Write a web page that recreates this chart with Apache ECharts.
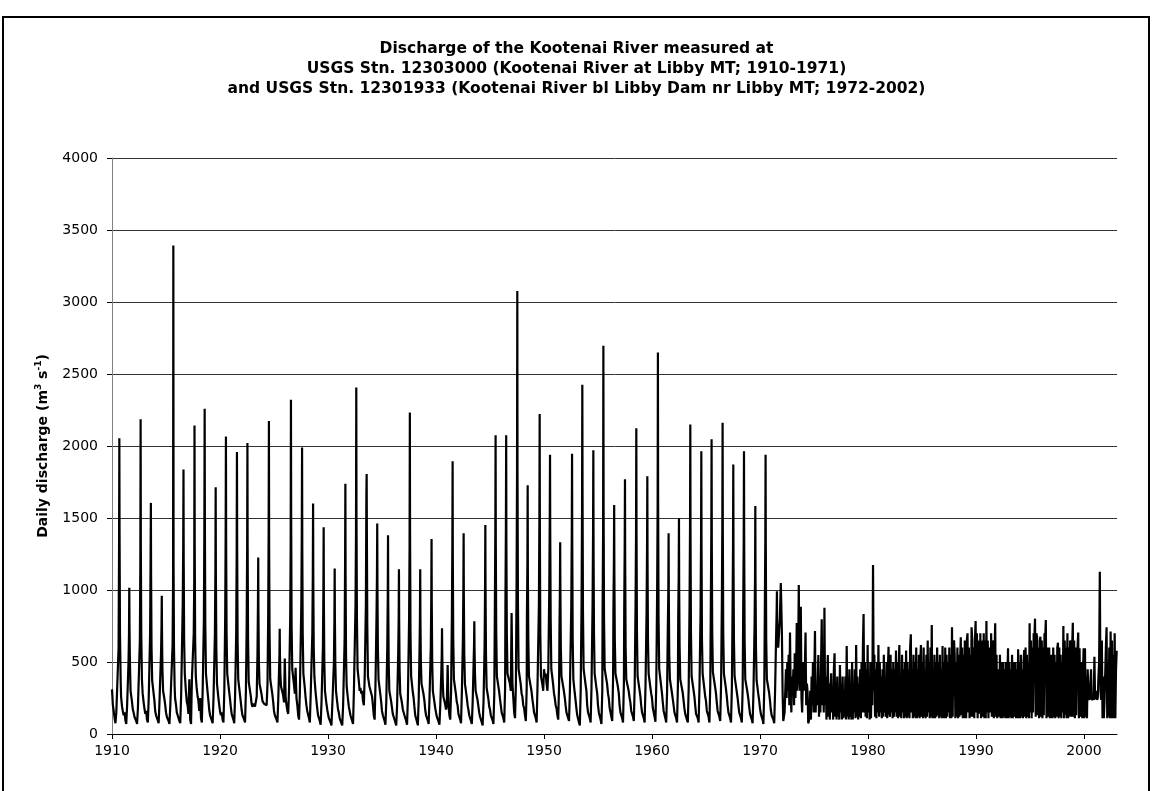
<!DOCTYPE html>
<html>
<head>
<meta charset="utf-8">
<script src="https://cdn.jsdelivr.net/npm/echarts@6/dist/echarts.min.js"></script>
<style>
  html, body { margin: 0; padding: 0; background: #fff; }
  #chart { width: 1153px; height: 791px; }
</style>
</head>
<body>
<div id="chart"></div>
<script>
// ---------- DATA ----------
const titleLines = [
  'Discharge of the Kootenai River measured at',
  'USGS Stn. 12303000 (Kootenai River at Libby MT; 1910-1971)',
  'and USGS Stn. 12301933 (Kootenai River bl Libby Dam nr Libby MT; 1972-2002)'
];
const yAxisTicks = [0, 500, 1000, 1500, 2000, 2500, 3000, 3500, 4000];
const xAxisTicks = [1910, 1920, 1930, 1940, 1950, 1960, 1970, 1980, 1990, 2000];

// sampling positions (fraction of year) of the pre-dam readings
const preFixedPos = [0.0, 0.08, 0.16, 0.24, 0.32, 0.40];
const prePeakOffsets = [-0.07, -0.025, 0, 0.02, 0.06, 0.12];
const preTailPos = [0.84, 0.93];

// pre-dam rows: [year, peak position in year, 14 readings (m3/s)]
const preDam = [
  [1910, .68, 310, 200, 160, 110, 75, 150, 600, 1300, 2053, 1400, 700, 380, 260, 190],
  [1911, .60, 160, 130, 150, 95, 70, 200, 500, 700, 1016, 750, 500, 300, 230, 170],
  [1912, .65, 150, 120, 130, 90, 70, 180, 650, 1200, 2186, 1300, 700, 380, 280, 220],
  [1913, .60, 180, 140, 160, 100, 80, 250, 700, 1250, 1605, 1100, 600, 370, 370, 230],
  [1914, .61, 160, 130, 140, 95, 75, 230, 560, 750, 960, 700, 450, 300, 250, 200],
  [1915, .68, 150, 120, 130, 90, 70, 200, 620, 1060, 3392, 1200, 600, 330, 250, 200],
  [1916, .62, 150, 130, 120, 90, 75, 260, 900, 1300, 1836, 1200, 650, 420, 300, 220],
  [1917, .64, 200, 140, 380, 100, 70, 380, 700, 1050, 2143, 1300, 650, 400, 320, 260],
  [1918, .58, 230, 160, 250, 110, 80, 320, 800, 1500, 2258, 1500, 750, 420, 300, 230],
  [1919, .60, 170, 130, 140, 95, 75, 250, 700, 1150, 1713, 1100, 600, 350, 260, 200],
  [1920, .55, 160, 130, 150, 100, 80, 300, 800, 1400, 2066, 1300, 700, 420, 300, 240],
  [1921, .57, 190, 140, 150, 100, 75, 270, 700, 1250, 1958, 1300, 650, 380, 280, 220],
  [1922, .54, 170, 130, 140, 100, 80, 300, 750, 1300, 2020, 1300, 650, 360, 270, 210],
  [1923, .54, 190, 200, 210, 190, 180, 260, 550, 900, 1226, 850, 500, 350, 280, 230],
  [1924, .53, 220, 210, 220, 200, 200, 350, 800, 1400, 2173, 1300, 700, 380, 280, 220],
  [1925, .53, 160, 130, 140, 100, 80, 250, 420, 550, 730, 550, 420, 330, 270, 220],
  [1926, .57, 525, 250, 200, 160, 140, 330, 800, 1300, 2322, 1500, 750, 450, 350, 280],
  [1927, .60, 460, 250, 200, 130, 100, 300, 900, 1400, 1989, 1300, 700, 420, 330, 250],
  [1928, .62, 200, 160, 170, 110, 80, 280, 700, 1100, 1600, 1050, 600, 400, 300, 230],
  [1929, .60, 180, 130, 140, 90, 65, 220, 600, 1000, 1436, 900, 500, 300, 220, 170],
  [1930, .62, 140, 110, 120, 80, 60, 200, 500, 800, 1149, 800, 480, 300, 230, 170],
  [1931, .61, 150, 110, 100, 75, 60, 200, 650, 1200, 1738, 1100, 550, 330, 250, 190],
  [1932, .62, 180, 130, 140, 90, 70, 300, 900, 1400, 2406, 1500, 800, 450, 380, 300],
  [1933, .58, 320, 280, 300, 230, 200, 400, 900, 1669, 1805, 1400, 750, 400, 330, 330],
  [1934, .56, 340, 260, 200, 130, 100, 350, 800, 1100, 1462, 1000, 600, 380, 280, 220],
  [1935, .56, 160, 130, 140, 90, 65, 230, 600, 950, 1380, 900, 500, 300, 230, 180],
  [1936, .57, 140, 120, 110, 80, 60, 200, 550, 800, 1144, 800, 450, 280, 220, 170],
  [1937, .58, 180, 130, 140, 90, 65, 250, 800, 1300, 2232, 1400, 700, 400, 300, 250],
  [1938, .54, 190, 130, 140, 85, 60, 240, 560, 800, 1144, 800, 500, 350, 280, 230],
  [1939, .59, 170, 130, 140, 95, 70, 250, 600, 950, 1354, 900, 500, 300, 230, 180],
  [1940, .56, 150, 120, 110, 85, 65, 200, 420, 550, 735, 550, 380, 260, 210, 170],
  [1941, .54, 200, 479, 200, 130, 100, 300, 800, 1300, 1894, 1200, 650, 380, 280, 220],
  [1942, .56, 200, 140, 150, 100, 75, 300, 650, 1000, 1394, 950, 550, 350, 260, 200],
  [1943, .55, 170, 130, 120, 90, 70, 230, 480, 620, 783, 600, 420, 300, 240, 190],
  [1944, .57, 150, 120, 110, 80, 60, 220, 600, 1000, 1452, 1000, 550, 320, 250, 190],
  [1945, .52, 170, 130, 140, 95, 70, 280, 850, 1400, 2074, 1300, 700, 400, 300, 240],
  [1946, .50, 200, 150, 160, 110, 80, 320, 900, 1450, 2074, 1300, 700, 420, 350, 300],
  [1947, .53, 841, 350, 250, 150, 110, 350, 1000, 1800, 3076, 1800, 900, 450, 350, 280],
  [1948, .49, 260, 200, 180, 130, 90, 320, 800, 1200, 1728, 1100, 650, 400, 300, 240],
  [1949, .60, 200, 150, 160, 110, 80, 330, 900, 1500, 2223, 1400, 700, 400, 350, 300],
  [1950, .56, 450, 400, 420, 350, 300, 450, 1000, 1500, 1940, 1400, 800, 450, 350, 280],
  [1951, .50, 250, 200, 180, 130, 100, 350, 700, 1000, 1332, 1000, 600, 400, 300, 250],
  [1952, .60, 200, 150, 160, 110, 90, 300, 900, 1400, 1947, 1300, 650, 380, 290, 230],
  [1953, .55, 180, 130, 120, 80, 60, 300, 900, 1550, 2426, 1700, 850, 450, 350, 300],
  [1954, .57, 200, 150, 160, 110, 80, 320, 900, 1400, 1970, 1300, 700, 420, 330, 280],
  [1955, .50, 200, 150, 140, 100, 70, 300, 900, 1400, 2696, 1600, 800, 450, 350, 280],
  [1956, .50, 250, 180, 190, 120, 90, 400, 850, 1200, 1590, 1100, 650, 420, 330, 280],
  [1957, .50, 200, 150, 160, 110, 80, 350, 850, 1300, 1769, 1200, 600, 380, 300, 250],
  [1958, .55, 220, 160, 170, 120, 90, 330, 900, 1400, 2124, 1400, 700, 400, 310, 260],
  [1959, .57, 200, 150, 160, 110, 80, 330, 850, 1300, 1790, 1200, 650, 420, 330, 280],
  [1960, .55, 250, 180, 170, 120, 85, 350, 1000, 1600, 2650, 1600, 800, 450, 340, 280],
  [1961, .54, 220, 160, 170, 110, 80, 300, 750, 1000, 1394, 950, 550, 380, 290, 240],
  [1962, .50, 200, 150, 160, 110, 80, 330, 800, 1100, 1498, 1000, 600, 380, 290, 230],
  [1963, .55, 180, 140, 150, 100, 80, 320, 900, 1450, 2150, 1400, 700, 400, 310, 260],
  [1964, .57, 200, 140, 150, 110, 80, 330, 850, 1350, 1963, 1300, 650, 420, 320, 260],
  [1965, .52, 230, 160, 170, 120, 80, 350, 900, 1400, 2046, 1300, 700, 430, 330, 280],
  [1966, .54, 220, 160, 170, 120, 90, 350, 900, 1450, 2161, 1400, 700, 420, 320, 260],
  [1967, .53, 200, 150, 160, 110, 80, 330, 850, 1300, 1871, 1200, 650, 400, 300, 250],
  [1968, .52, 200, 150, 160, 110, 80, 330, 900, 1350, 1963, 1300, 650, 380, 290, 240],
  [1969, .57, 190, 140, 150, 100, 75, 300, 750, 1100, 1583, 1050, 600, 370, 280, 230],
  [1970, .52, 180, 140, 150, 100, 70, 320, 850, 1350, 1940, 1300, 650, 380, 290, 230],
  [1971, .57, 170, 130, 140, 100, 75, 300, 700, 850, 991, 800, 650, 600, 800, 1048]
];

// post-dam rows: [year, 16 evenly spaced readings in the year (m3/s)]
const postDam = [
  [1972, 700, 300, 90, 80, 150, 300, 450, 250, 500, 300, 550, 200, 704, 300, 150, 400],
  [1973, 300, 450, 200, 560, 250, 400, 770, 300, 500, 1035, 400, 300, 884, 250, 150, 350],
  [1974, 500, 300, 450, 704, 200, 350, 294, 74, 90, 150, 300, 100, 400, 200, 500, 150],
  [1975, 400, 715, 150, 300, 200, 350, 549, 120, 400, 150, 500, 796, 200, 500, 150, 877],
  [1976, 200, 400, 100, 300, 549, 120, 350, 100, 300, 421, 150, 300, 100, 450, 560, 120],
  [1977, 350, 100, 400, 120, 300, 100, 479, 150, 350, 100, 400, 110, 300, 120, 400, 100],
  [1978, 611, 120, 400, 100, 450, 120, 300, 100, 500, 100, 350, 150, 450, 110, 618, 120],
  [1979, 400, 100, 350, 120, 450, 110, 500, 150, 600, 833, 150, 500, 120, 450, 110, 618],
  [1980, 150, 400, 100, 500, 110, 450, 200, 1174, 300, 550, 120, 450, 110, 500, 150, 618],
  [1981, 120, 500, 150, 400, 110, 450, 120, 550, 150, 400, 120, 500, 110, 450, 606, 150],
  [1982, 120, 550, 150, 450, 110, 500, 120, 450, 150, 580, 120, 500, 110, 450, 618, 120],
  [1983, 400, 110, 550, 150, 450, 110, 500, 120, 580, 110, 500, 120, 450, 110, 600, 692],
  [1984, 150, 450, 110, 550, 120, 500, 110, 600, 110, 450, 120, 550, 110, 500, 618, 120],
  [1985, 500, 110, 600, 120, 450, 110, 550, 120, 650, 150, 500, 110, 600, 120, 757, 110],
  [1986, 450, 110, 550, 110, 500, 120, 600, 130, 500, 110, 550, 120, 450, 110, 611, 110],
  [1987, 500, 110, 600, 110, 550, 120, 500, 150, 600, 110, 550, 110, 741, 120, 600, 650],
  [1988, 550, 110, 500, 120, 600, 110, 550, 120, 500, 671, 130, 600, 110, 550, 110, 650],
  [1989, 600, 110, 650, 699, 150, 600, 110, 550, 120, 741, 650, 120, 600, 110, 650, 785],
  [1990, 150, 700, 110, 650, 600, 140, 700, 110, 650, 600, 120, 700, 110, 650, 110, 785],
  [1991, 150, 650, 110, 600, 550, 150, 700, 120, 650, 600, 110, 550, 769, 120, 550, 110],
  [1992, 110, 450, 120, 550, 110, 500, 450, 110, 500, 120, 450, 110, 500, 110, 120, 595],
  [1993, 110, 500, 120, 450, 110, 550, 110, 500, 450, 120, 500, 110, 450, 110, 588, 110],
  [1994, 500, 110, 550, 120, 450, 110, 500, 583, 120, 600, 110, 550, 120, 500, 110, 769],
  [1995, 150, 650, 110, 600, 150, 700, 650, 801, 120, 700, 676, 130, 600, 110, 650, 676],
  [1996, 120, 650, 110, 600, 130, 700, 650, 792, 110, 600, 550, 120, 600, 110, 550, 110],
  [1997, 550, 110, 600, 120, 550, 110, 500, 120, 600, 634, 110, 600, 120, 550, 110, 500],
  [1998, 150, 750, 110, 650, 130, 600, 110, 699, 110, 600, 120, 650, 550, 120, 600, 773],
  [1999, 120, 650, 110, 600, 130, 550, 600, 704, 110, 595, 120, 500, 450, 110, 400, 595],
  [2000, 110, 595, 120, 400, 110, 450, 300, 236, 250, 240, 450, 236, 240, 250, 236, 537],
  [2001, 240, 236, 300, 236, 250, 400, 500, 1127, 300, 236, 650, 110, 400, 110, 236, 240],
  [2002, 600, 741, 110, 500, 120, 600, 110, 711, 110, 650, 110, 550, 110, 700, 110, 450],
  [2003, 579]
];
const postPerYear = 16;
const xMin = 1910, xMax = 2003.06;

// ---------- build the (date, flow) pairs ----------
const points = [];
preDam.forEach(r => {
  const year = r[0], pk = r[1], v = r.slice(2);
  const pos = preFixedPos.concat(prePeakOffsets.map(o => pk + o), preTailPos);
  v.forEach((val, i) => points.push([year + pos[i], val]));
});
postDam.forEach(r => {
  const year = r[0];
  r.slice(1).forEach((val, i) => points.push([year + (i + 0.5) / postPerYear, val]));
});

const FONT = '"DejaVu Sans", Verdana, sans-serif';
const chart = echarts.init(document.getElementById('chart'), null, { renderer: 'canvas' });
chart.setOption({
  animation: false,
  backgroundColor: '#fff',
  textStyle: { fontFamily: FONT },
  title: {
    text: titleLines.join('\n'),
    left: 'center',
    top: 34,
    textStyle: { fontFamily: FONT, fontSize: 15.5, fontWeight: 'bold', color: '#000', lineHeight: 20 }
  },
  graphic: [{
    type: 'rect',
    shape: { x: 3, y: 17, width: 1146, height: 800 },
    style: { fill: 'none', stroke: '#000', lineWidth: 2 },
    silent: true
  }],
  grid: { left: 112, right: 36, top: 158, bottom: 57, containLabel: false },
  xAxis: {
    type: 'value',
    min: xMin,
    max: xMax,
    interval: 10,
    axisLine: { show: true, lineStyle: { color: '#000', width: 1 } },
    axisTick: { show: true, length: 5, lineStyle: { color: '#000' } },
    axisLabel: {
      color: '#000', fontSize: 14, fontFamily: FONT, margin: 10,
      showMaxLabel: false,
      formatter: v => (xAxisTicks.indexOf(v) >= 0 ? String(v) : '')
    },
    splitLine: { show: false }
  },
  yAxis: {
    type: 'value',
    min: yAxisTicks[0],
    max: yAxisTicks[yAxisTicks.length - 1],
    interval: 500,
    name: '{b|Daily discharge (m}{s|3}{b| s}{s|-1}{b|)}',
    nameLocation: 'middle',
    nameGap: 60,
    nameRotate: 90,
    nameTextStyle: {
      rich: {
        b: { fontFamily: FONT, fontSize: 14, fontWeight: 'bold', color: '#000', lineHeight: 18 },
        s: { fontFamily: FONT, fontSize: 9, fontWeight: 'bold', color: '#000', verticalAlign: 'top', lineHeight: 18, padding: [0, 0, 7, 0] }
      }
    },
    axisLine: { show: true, lineStyle: { color: '#808080', width: 1 } },
    axisTick: { show: true, length: 5, lineStyle: { color: '#000' } },
    axisLabel: {
      color: '#000', fontSize: 14, fontFamily: FONT, margin: 14,
      formatter: v => String(v)
    },
    splitLine: { show: true, lineStyle: { color: '#333', width: 1 } }
  },
  series: [{
    type: 'line',
    data: points,
    showSymbol: false,
    symbol: 'none',
    lineStyle: { color: '#000', width: 2.2 },
    clip: true
  }]
});
</script>
</body>
</html>
